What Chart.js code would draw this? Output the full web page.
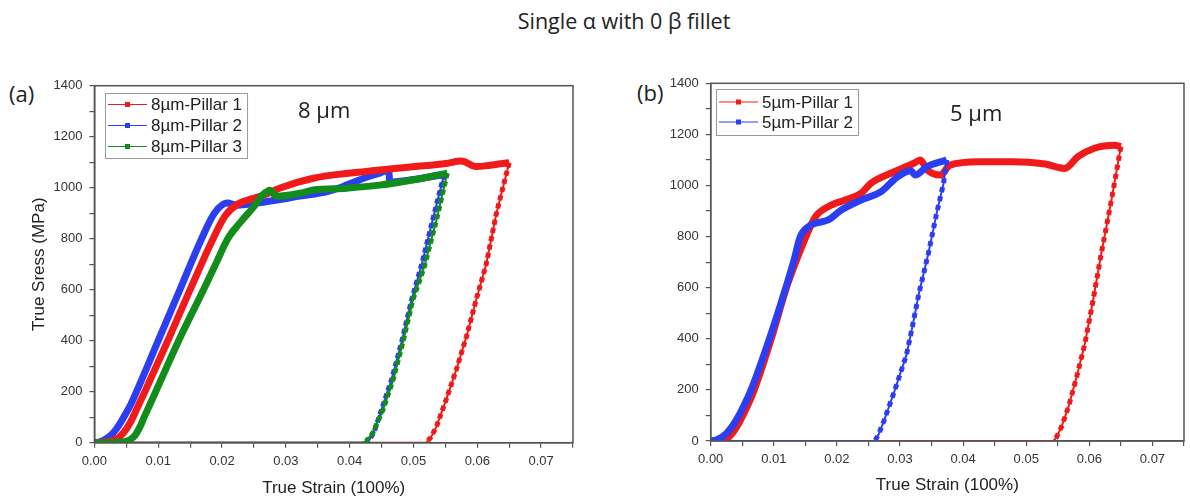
<!DOCTYPE html>
<html>
<head>
<meta charset="utf-8">
<script src="https://cdn.jsdelivr.net/npm/chart.js@4.4.1/dist/chart.umd.min.js"></script>
<style>
  body { margin: 0; width: 1190px; height: 499px; background: #fff; position: relative; overflow: hidden;
         font-family: "Open Sans", sans-serif; color: #222; }
  .t { position: absolute; white-space: nowrap; line-height: 1; }
  canvas { position: absolute; }
</style>
</head>
<body>
<div class="t" style="left:624px;top:10px;font-size:21.5px;transform:translateX(-50%)">Single α with 0 β fillet</div>
<div class="t" style="left:9px;top:82px;font-size:22px">(a)</div>
<div class="t" style="left:637px;top:81px;font-size:22px">(b)</div>
<canvas id="chartA" width="600" height="449" style="left:0;top:50px"></canvas>
<canvas id="chartB" width="570" height="449" style="left:620px;top:50px"></canvas>
<div class="t" style="left:298px;top:98px;font-size:22px">8 µm</div>
<div class="t" style="left:950px;top:101px;font-size:22px">5 µm</div>

<script>
// ---- data: [true strain, true stress (MPa)] ----

// (a) 8 µm pillars
const a1Load = [[0,0],[0.002,4],[0.0035,15],[0.0046,40],[0.0056,78],[0.0066,130],[0.0079,200],[0.0115,400],
  [0.015,600],[0.0186,800],[0.0205,890],[0.0224,935],[0.0245,955],[0.027,975],[0.029,998],[0.0343,1037],
  [0.0395,1056],[0.0447,1069],[0.0499,1082],[0.0551,1095],[0.0575,1105],[0.0598,1083],[0.062,1088],[0.065,1098]]
const a1Unload = [[0.065,1098],[0.063,900],[0.0614,700],[0.0598,558],[0.0583,416],[0.0567,285],[0.0551,167],
  [0.0536,63],[0.0527,20],[0.052,0]]

const a2Load = [[0,0],[0.001,5],[0.002,18],[0.003,40],[0.004,75],[0.005,118],[0.0057,150],[0.0066,200],
  [0.01,400],[0.0134,600],[0.0168,800],[0.0188,900],[0.0208,940],[0.0223,931],[0.0269,945],[0.0322,967],
  [0.0365,985],[0.0395,1010],[0.0425,1040],[0.0447,1057],[0.0461,1069],[0.0463,1022],[0.05,1032],[0.0548,1052]]
const a2Unload = [[0.0548,1052],[0.053,873],[0.0513,700],[0.0497,560],[0.0481,390],[0.0466,250],[0.045,130],
  [0.0438,40],[0.043,8],[0.0427,0]]

const a3Load = [[0,0],[0.003,1],[0.0047,4],[0.0056,12],[0.0064,30],[0.0071,60],[0.0078,100],[0.0087,150],
  [0.0096,200],[0.0132,400],[0.0171,600],[0.019,700],[0.0209,800],[0.0228,862],[0.0248,920],[0.0264,972],
  [0.0275,990],[0.0285,966],[0.0322,978],[0.0343,991],[0.0395,998],[0.0447,1010],[0.0499,1030],[0.0553,1057]]
const a3Unload = [[0.0553,1057],[0.0536,873],[0.0517,690],[0.0499,560],[0.0483,390],[0.0468,246],[0.0452,128],
  [0.0436,37],[0.0426,6],[0.042,0]]

// (b) 5 µm pillars
const b1Load = [[0,0],[0.002,0],[0.003,18],[0.004,50],[0.0055,120],[0.0069,200],[0.0096,400],[0.012,600],
  [0.0136,708],[0.0151,800],[0.0166,878],[0.0186,917],[0.0213,943],[0.0238,969],[0.0254,1009],[0.0285,1048],
  [0.0322,1087],[0.0332,1100],[0.0343,1061],[0.0364,1041],[0.0379,1080],[0.0426,1093],[0.0478,1093],
  [0.053,1084],[0.0561,1067],[0.0582,1113],[0.0608,1146],[0.064,1158],[0.065,1152]]
const b1Unload = [[0.065,1152],[0.0635,943],[0.0619,735],[0.0606,552],[0.0593,382],[0.058,252],[0.0567,134],
  [0.0556,56],[0.0548,15],[0.0543,0]]

const b2Load = [[0,0],[0.001,5],[0.0025,30],[0.004,80],[0.0052,135],[0.0064,200],[0.0093,400],[0.0119,600],
  [0.0132,708],[0.0142,800],[0.0155,839],[0.0166,852],[0.0186,865],[0.0207,904],[0.0238,943],[0.027,976],
  [0.0296,1034],[0.0317,1058],[0.0324,1041],[0.0343,1074],[0.0374,1100]]
const b2Unload = [[0.0374,1100],[0.0369,1009],[0.0358,891],[0.0345,735],[0.033,578],[0.0319,440],[0.031,335],
  [0.029,187],[0.0275,82],[0.0266,25],[0.026,0]]

// tick labels
const strainLabels = [0, 0.01, 0.02, 0.03, 0.04, 0.05, 0.06, 0.07]
const stressLabels = [0, 200, 400, 600, 800, 1000, 1200, 1400]

const RED = '#f01a1a', BLUE = '#2b3ef2', GREEN = '#128c1a'
const FONT = '"Liberation Sans", Arial, sans-serif'

const xy = arr => arr.map(p => ({x: p[0], y: p[1]}))

// one pillar = thick loading curve + dotted unloading + thin return line along zero
function pillar(label, color, load, unload, order, gap) {
  return [
    {label: label, data: xy(load), borderColor: color, backgroundColor: color, borderWidth: 7,
     borderJoinStyle: 'round', cubicInterpolationMode: 'monotone', order: order},
    {data: xy(unload), borderColor: color, borderWidth: 5, borderDash: [5, gap], order: order + 1},
    {data: xy(unload.concat([load[0]])), borderColor: color, borderWidth: 2, order: order + 2}
  ]
}

// box round the plot area
const framePlugin = {
  id: 'frame',
  afterDatasetsDraw(chart) {
    const {ctx, chartArea: a} = chart
    ctx.save()
    ctx.strokeStyle = '#555'
    ctx.lineWidth = 1.5
    ctx.strokeRect(a.left, a.top, a.right - a.left, a.bottom - a.top)
    ctx.restore()
  }
}

// origin-style legend: boxed, line sample with a square marker
const boxLegend = {
  id: 'boxLegend',
  afterDraw(chart, args, opts) {
    const {ctx, chartArea: a} = chart
    const items = chart.data.datasets.filter(d => d.label)
    ctx.save()
    ctx.font = '17px ' + FONT
    const w = Math.max(...items.map(d => ctx.measureText(d.label).width))
    const x0 = a.left + opts.dx, y0 = a.top + opts.dy
    const bw = 3 + 39 + 4 + w + 5, bh = items.length * opts.row + opts.pad * 2
    ctx.fillStyle = '#fff'
    ctx.fillRect(x0, y0, bw, bh)
    ctx.strokeStyle = '#999'
    ctx.lineWidth = 1
    ctx.strokeRect(x0 + 0.5, y0 + 0.5, bw, bh)
    items.forEach((d, i) => {
      const y = y0 + opts.pad + opts.row * (i + 0.5)
      ctx.strokeStyle = d.borderColor
      ctx.lineWidth = 1
      ctx.beginPath()
      ctx.moveTo(x0 + 3, y)
      ctx.lineTo(x0 + 42, y)
      ctx.stroke()
      ctx.fillStyle = d.borderColor
      ctx.fillRect(x0 + 20, y - 2.5, 5, 5)
      ctx.fillStyle = '#222'
      ctx.textBaseline = 'middle'
      ctx.fillText(d.label, x0 + 46, y + 1)
    })
    ctx.restore()
  }
}

function makeChart(id, datasets, cfg) {
  const tickFont = {family: FONT, size: 13}
  return new Chart(document.getElementById(id), {
    type: 'scatter',
    data: {datasets: datasets.map(d => Object.assign({showLine: true, pointRadius: 0, pointHoverRadius: 0}, d))},
    plugins: [framePlugin, boxLegend],
    options: {
      responsive: false,
      animation: false,
      events: [],
      layout: {padding: {top: cfg.top, right: cfg.right, left: 0, bottom: 0}},
      plugins: {
        legend: {display: false},
        tooltip: {enabled: false},
        boxLegend: cfg.legend
      },
      scales: {
        x: {
          type: 'linear', min: 0, max: 0.075,
          afterFit: s => { s.height = cfg.xHeight },
          border: {display: true, color: '#555', width: 1.5},
          grid: {drawOnChartArea: false, drawTicks: true, tickLength: 5, color: '#555', lineWidth: 1.2},
          ticks: {
            stepSize: 0.005, padding: 6, color: '#333', font: tickFont, maxRotation: 0, autoSkip: false,
            callback: v => strainLabels.some(l => Math.abs(l - v) < 1e-6) ? v.toFixed(2) : ''
          },
          title: {display: true, text: 'True Strain (100%)', color: '#222', font: {family: FONT, size: 17},
                  padding: {top: 0, bottom: cfg.xTitlePad}}
        },
        y: {
          type: 'linear', min: 0, max: 1400,
          afterFit: s => { s.width = cfg.yWidth },
          border: {display: true, color: '#555', width: 1.5},
          grid: {drawOnChartArea: false, drawTicks: true, tickLength: 5, color: '#555', lineWidth: 1.2},
          ticks: {
            stepSize: 100, padding: 7, color: '#333', font: tickFont,
            callback: v => stressLabels.includes(v) ? String(v) : ''
          },
          title: {display: cfg.yTitle !== '', text: cfg.yTitle, color: '#222', font: {family: FONT, size: 17},
                  padding: {top: 28.8, bottom: 0}}
        }
      }
    }
  })
}

makeChart('chartA',
  [].concat(
    pillar('8µm-Pillar 1', RED, a1Load, a1Unload, 4, 3.4),
    pillar('8µm-Pillar 2', BLUE, a2Load, a2Unload, 7, 3.4),
    pillar('8µm-Pillar 3', GREEN, a3Load, a3Unload, 1, 3.4)
  ),
  {top: 35.7, right: 27, xHeight: 56.3, yWidth: 94.4, xTitlePad: 0.8, yTitle: 'True Sress (MPa)',
   legend: {dx: 10.6, dy: 7.3, row: 21, pad: 1}})

makeChart('chartB',
  [].concat(
    pillar('5µm-Pillar 1', RED, b1Load, b1Unload, 4, 4.2),
    pillar('5µm-Pillar 2', BLUE, b2Load, b2Unload, 1, 4.2)
  ),
  {top: 33.3, right: 1, xHeight: 58, yWidth: 90.7, xTitlePad: 3, yTitle: '',
   legend: {dx: 5.3, dy: 5.7, row: 20, pad: 3}})
</script>
</body>
</html>
